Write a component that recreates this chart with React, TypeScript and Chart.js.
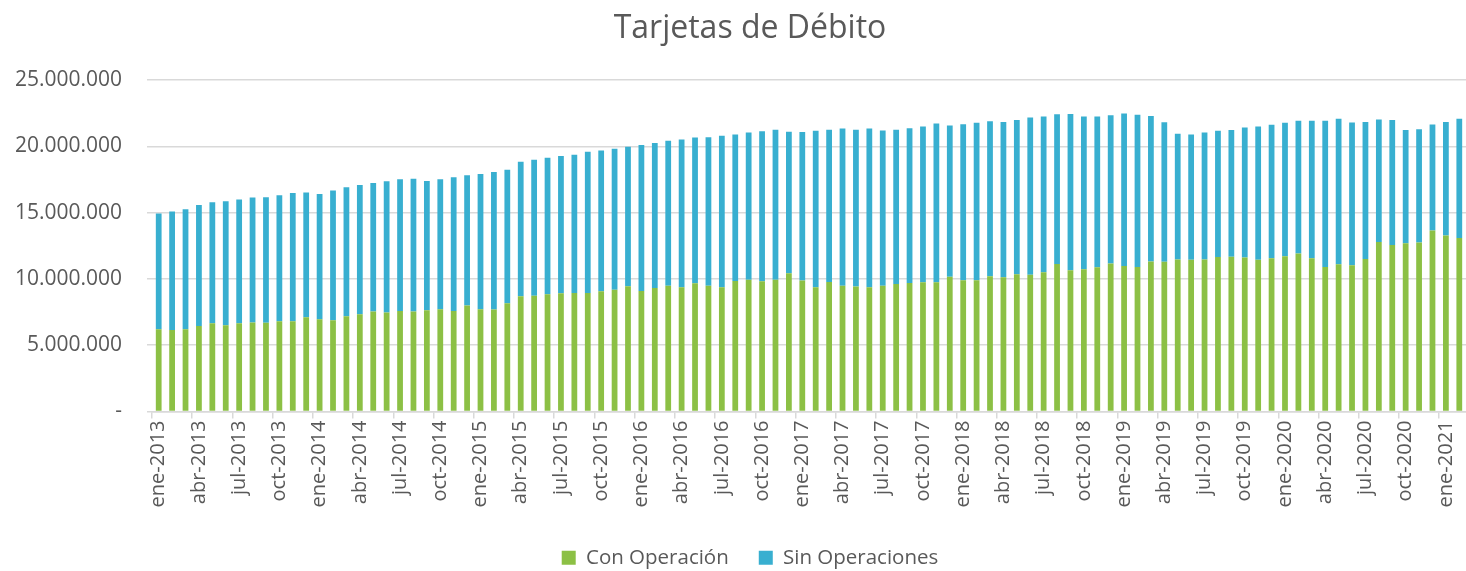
import React, { useEffect, useRef } from "react";
import { Chart, registerables } from "chart.js";

Chart.register(...registerables);

const MONTHS = ["ene", "feb", "mar", "abr", "may", "jun", "jul", "ago", "sep", "oct", "nov", "dic"];
const START_YEAR = 2013;
const N_MONTHS = 98;
const categories: string[] = [];
for (let i = 0; i < N_MONTHS; i++) {
  categories.push(`${MONTHS[i % 12]}-${START_YEAR + Math.floor(i / 12)}`);
}

const conOperacion = [
  6210000, 6140000, 6210000, 6440000, 6660000, 6510000, 6660000, 6710000, 6690000, 6810000,
  6810000, 7110000, 6960000, 6890000, 7190000, 7340000, 7540000, 7460000, 7570000, 7540000,
  7640000, 7720000, 7570000, 7990000, 7720000, 7690000, 8170000, 8690000, 8720000, 8840000,
  8920000, 8940000, 8940000, 9070000, 9190000, 9440000, 9090000, 9320000, 9490000, 9370000,
  9670000, 9490000, 9370000, 9840000, 9940000, 9820000, 9940000, 10420000, 9870000, 9370000,
  9770000, 9490000, 9420000, 9370000, 9490000, 9620000, 9690000, 9740000, 9740000, 10170000,
  9890000, 9890000, 10200000, 10120000, 10350000, 10320000, 10500000, 11120000, 10650000, 10720000,
  10870000, 11170000, 10970000, 10900000, 11320000, 11300000, 11470000, 11450000, 11470000, 11650000,
  11670000, 11620000, 11450000, 11550000, 11700000, 11920000, 11550000, 10900000, 11100000, 11020000,
  11500000, 12780000, 12550000, 12680000, 12750000, 13650000, 13280000, 13080000,
];

const sinOperaciones = [
  8720000, 8940000, 9050000, 9140000, 9120000, 9350000, 9320000, 9420000, 9470000, 9500000,
  9670000, 9400000, 9450000, 9770000, 9720000, 9740000, 9690000, 9900000, 9940000, 10020000,
  9740000, 9790000, 10090000, 9820000, 10190000, 10370000, 10070000, 10150000, 10270000, 10300000,
  10340000, 10420000, 10650000, 10620000, 10620000, 10520000, 11000000, 10920000, 10930000, 11150000,
  11000000, 11200000, 11420000, 11050000, 11100000, 11320000, 11300000, 10670000, 11200000, 11800000,
  11470000, 11850000, 11820000, 11970000, 11700000, 11620000, 11680000, 11750000, 11980000, 11400000,
  11780000, 11880000, 11690000, 11720000, 11640000, 11850000, 11740000, 11300000, 11790000, 11520000,
  11370000, 11170000, 11500000, 11470000, 10970000, 10520000, 9470000, 9440000, 9570000, 9520000,
  9550000, 9800000, 10040000, 10070000, 10070000, 10000000, 10370000, 11020000, 10970000, 10770000,
  10340000, 9240000, 9440000, 8540000, 8540000, 7990000, 8560000, 8990000,
];

const Y_TICKS = [0, 5000000, 10000000, 15000000, 20000000, 25000000];

const TEXT = "#595959";
const GRID = "#d9d9d9";
const FONT = "'Open Sans', 'DejaVu Sans', sans-serif";

function fmt(v: number): string {
  if (v === 0) return "-";
  return String(Math.round(v)).replace(/\B(?=(\d{3})+(?!\d))/g, ".");
}

export default function App() {
  const ref = useRef<HTMLCanvasElement | null>(null);
  useEffect(() => {
    document.body.style.margin = "0";
    const canvas = ref.current;
    if (!canvas) return;
    const chart = new Chart(canvas, {
      type: "bar",
      data: {
        labels: categories,
        datasets: [
          {
            label: "Con Operación",
            data: conOperacion,
            backgroundColor: "#8cc045",
            borderWidth: 0,
            categoryPercentage: 1,
            barPercentage: 0.43,
          },
          {
            label: "Sin Operaciones",
            data: sinOperaciones,
            backgroundColor: "#38afd0",
            borderWidth: 0,
            categoryPercentage: 1,
            barPercentage: 0.43,
          },
        ],
      },
      options: {
        responsive: false,
        animation: false,
        layout: { padding: { left: 34, right: 0, top: 0, bottom: 0 } },
        plugins: {
          title: {
            display: true,
            text: "Tarjetas de Débito",
            color: TEXT,
            font: { family: FONT, size: 32, weight: "normal" },
            padding: { top: 10, bottom: 31.6 },
          },
          legend: {
            position: "bottom",
            labels: {
              color: TEXT,
              font: { family: FONT, size: 20.5 },
              boxWidth: 14,
              boxHeight: 14,
              padding: 30,
            },
          },
          tooltip: { enabled: false },
        },
        scales: {
          x: {
            stacked: true,
            offset: true,
            grid: {
              offset: true,
              drawOnChartArea: false,
              drawTicks: true,
              tickLength: 7,
              color: (ctx: any) => (ctx.index % 3 === 0 ? GRID : "rgba(0,0,0,0)"),
              lineWidth: 1.5,
            },
            border: { display: true, color: GRID, width: 1.5 },
            ticks: {
              autoSkip: false,
              maxRotation: 90,
              minRotation: 90,
              padding: 2,
              color: TEXT,
              font: { family: FONT, size: 20 },
              callback: (_v: any, i: number) => (i % 3 === 0 ? categories[i] : ""),
            },
            afterFit: (scale: any) => {
              scale.height = 106;
              scale.paddingLeft = 0;
              scale.paddingRight = 0;
            },
          },
          y: {
            stacked: true,
            min: 0,
            max: 25000000,
            afterBuildTicks: (scale: any) => {
              scale.ticks = Y_TICKS.map((v) => ({ value: v }));
            },
            grid: {
              color: GRID,
              lineWidth: 1.5,
              drawTicks: true,
              tickLength: 5,
            },
            border: { display: false },
            ticks: {
              color: TEXT,
              padding: 25,
              font: { family: FONT, size: 21 },
              callback: (v: any) => fmt(Number(v)),
            },
            afterFit: (scale: any) => {
              scale.width = 118;
              // let the tick labels draw into the left layout padding
              scale._computeLabelArea = () => undefined;
            },
          },
        },
      },
    });
    return () => chart.destroy();
  }, []);
  return (
    <div style={{ position: "absolute", left: 0, top: 0, width: 1466, height: 578 }}>
      <canvas ref={ref} width={1466} height={578} style={{ display: "block" }} />
    </div>
  );
}
